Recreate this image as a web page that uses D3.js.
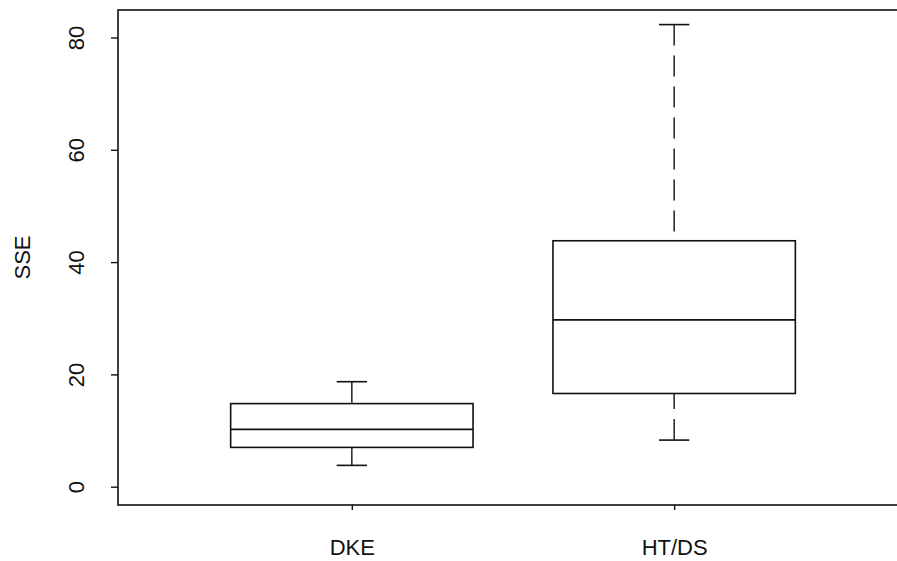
<!DOCTYPE html>
<meta charset="utf-8">
<style>
body { margin: 0; background: #fff; overflow: hidden; }
svg { display: block; }
text { font-family: "Liberation Sans", Arial, sans-serif; fill: #111; }
</style>
<body>
<script src="https://d3js.org/d3.v7.min.js"></script>
<script>

// data
var groups = ["DKE", "HT/DS"];
var whiskerLow  = [3.8, 8.3];
var q1          = [7.0, 16.6];
var medians     = [10.2, 29.7];
var q3          = [14.8, 43.8];
var whiskerHigh = [18.7, 82.3];
var yTicks = [0, 20, 40, 60, 80];

var width = 897, height = 561;
var frame = {left: 118, top: 10, right: 908, bottom: 505};

var svg = d3.select("body").append("svg")
    .attr("width", width)
    .attr("height", height);

var x = d3.scalePoint()
    .domain(groups)
    .range([frame.left, frame.right])
    .padding(0.7255);

var y = d3.scaleLinear()
    .domain([0, 80])
    .range([486.7, 37.5]);

var step = x.step();
var boxHalf = step * 0.376;
var capHalf = step * 0.047;

// plot frame
svg.append("rect")
    .attr("x", frame.left)
    .attr("y", frame.top)
    .attr("width", frame.right - frame.left)
    .attr("height", frame.bottom - frame.top)
    .attr("fill", "none")
    .attr("stroke", "#111")
    .attr("stroke-width", 1.6);

// y axis
var yAxis = svg.append("g")
    .attr("transform", "translate(" + frame.left + ",0)")
    .call(d3.axisLeft(y).tickValues(yTicks).tickSize(7).tickSizeOuter(0).tickPadding(0));
yAxis.select(".domain").remove();
yAxis.selectAll("line").attr("stroke", "#111").attr("stroke-width", 1.4);
yAxis.selectAll("text")
    .attr("font-size", 22)
    .attr("x", 0).attr("y", 0).attr("dy", 0)
    .attr("text-anchor", "middle")
    .attr("transform", "translate(" + (84 - frame.left) + ",0) rotate(-90)");

// x axis
var xAxis = svg.append("g")
    .attr("transform", "translate(0," + frame.bottom + ")")
    .call(d3.axisBottom(x).tickSize(5).tickSizeOuter(0).tickPadding(0));
xAxis.select(".domain").remove();
xAxis.selectAll("line").attr("stroke", "#111").attr("stroke-width", 1.4);
xAxis.selectAll("text")
    .attr("font-size", 22)
    .attr("dy", 0)
    .attr("y", 555 - frame.bottom);

// y label
svg.append("text")
    .attr("transform", "translate(30," + ((frame.top + frame.bottom) / 2) + ") rotate(-90)")
    .attr("text-anchor", "middle")
    .attr("font-size", 22)
    .text("SSE");

// boxes
var g = svg.selectAll(".box")
    .data(groups)
  .enter().append("g")
    .attr("class", "box");

g.append("line") // upper whisker, dashed from the end toward the box
    .attr("x1", function(d) { return x(d); })
    .attr("x2", function(d) { return x(d); })
    .attr("y1", function(d, i) { return y(whiskerHigh[i]); })
    .attr("y2", function(d, i) { return y(q3[i]); })
    .attr("stroke", "#111").attr("stroke-width", 1.4)
    .attr("stroke-dasharray", "21,10");

g.append("line") // lower whisker
    .attr("x1", function(d) { return x(d); })
    .attr("x2", function(d) { return x(d); })
    .attr("y1", function(d, i) { return y(whiskerLow[i]); })
    .attr("y2", function(d, i) { return y(q1[i]); })
    .attr("stroke", "#111").attr("stroke-width", 1.4)
    .attr("stroke-dasharray", "21,10");

[whiskerHigh, whiskerLow].forEach(function(arr) {
  g.append("line")
      .attr("x1", function(d) { return x(d) - capHalf; })
      .attr("x2", function(d) { return x(d) + capHalf; })
      .attr("y1", function(d, i) { return y(arr[i]); })
      .attr("y2", function(d, i) { return y(arr[i]); })
      .attr("stroke", "#111").attr("stroke-width", 1.6);
});

g.append("rect")
    .attr("x", function(d) { return x(d) - boxHalf; })
    .attr("width", boxHalf * 2)
    .attr("y", function(d, i) { return y(q3[i]); })
    .attr("height", function(d, i) { return y(q1[i]) - y(q3[i]); })
    .attr("fill", "none")
    .attr("stroke", "#111").attr("stroke-width", 1.6);

g.append("line") // median
    .attr("x1", function(d) { return x(d) - boxHalf; })
    .attr("x2", function(d) { return x(d) + boxHalf; })
    .attr("y1", function(d, i) { return y(medians[i]); })
    .attr("y2", function(d, i) { return y(medians[i]); })
    .attr("stroke", "#111").attr("stroke-width", 1.8);

</script>
</body>
